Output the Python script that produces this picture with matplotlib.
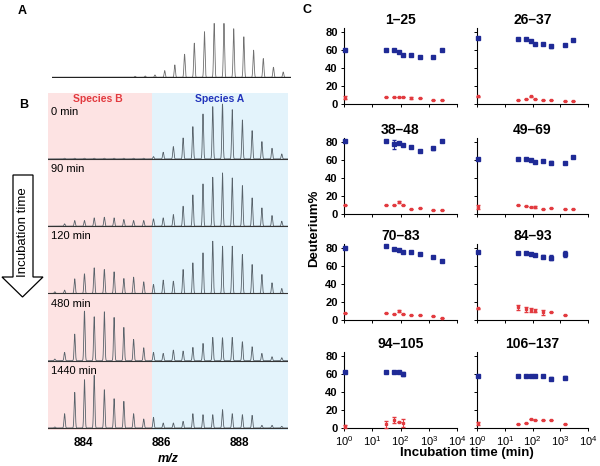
import numpy as np
import matplotlib
matplotlib.use("Agg")
import matplotlib.pyplot as plt
from matplotlib.patches import Polygon

plt.rcParams['font.family'] = ['Liberation Sans', 'DejaVu Sans']
plt.rcParams['mathtext.fontset'] = 'custom'
plt.rcParams['mathtext.rm'] = 'Liberation Sans'
plt.rcParams['mathtext.default'] = 'rm'

W, H = 600, 466

# ---- spectra (panels A and B) ----
# isotope peak positions, m/z
peak_mz = [883.27, 883.52, 883.78, 884.03, 884.28, 884.54, 884.79, 885.04,
           885.29, 885.55, 885.80, 886.05, 886.31, 886.56, 886.81, 887.07,
           887.32, 887.57, 887.82, 888.08, 888.33, 888.58, 888.84, 889.09]

# panel A reference spectrum, peaks 8..23
ref_heights = [3, 4, 7, 20, 37, 69, 102, 136, 161, 161, 145, 121, 81, 56, 30, 16]

spec_labels = ['0 min', '90 min', '120 min', '480 min', '1440 min']
spec_0 = [0, 2, 2, 2, 2, 2, 2, 2, 2, 2, 7, 20, 37, 63, 97, 135, 157, 165,
          148, 117, 85, 52, 32, 15]
spec_90 = [0, 7, 17, 17, 25, 27, 25, 20, 17, 17, 22, 25, 35, 60, 94, 127, 147,
           160, 145, 122, 85, 55, 32, 15]
spec_120 = [5, 10, 44, 59, 77, 72, 65, 45, 49, 35, 27, 40, 37, 72, 92, 122,
            157, 142, 142, 117, 87, 57, 32, 15]
spec_480 = [5, 25, 80, 149, 132, 147, 130, 100, 64, 39, 25, 22, 32, 29, 40, 52,
            70, 69, 70, 57, 42, 22, 12, 9]
spec_1440 = [3, 43, 107, 145, 158, 115, 88, 80, 43, 27, 32, 15, 15, 20, 43, 40,
             40, 55, 43, 40, 38, 8, 8, 5]
spectra = [spec_0, spec_90, spec_120, spec_480, spec_1440]

split_mz = 885.76   # boundary between species B and species A

# ---- deuterium uptake (panel C) ----
# t = 0 is drawn at 10^0
times = [1.1, 30, 60, 90, 120, 240, 480, 1440, 2880]
nan = np.nan
segments = ['1–25', '26–37', '38–48', '49–69', '70–83', '84–93', '94–105', '106–137']

speciesA = {
    '1–25':    [60, 60, 59.5, 58, 54.5, 54.3, 52.5, 51.7, 60],
    '26–37':   [73.4, 72.7, 72.7, 70, 67, 67, 64, 65.3, 71.2],
    '38–48':   [81, 81, 77.5, 78.6, 76.8, 74.3, 70, 73, 81],
    '49–69':   [61.4, 61.4, 61.4, 60, 57.9, 59.3, 57, 56.8, 63.2],
    '70–83':   [80, 82.2, 79.3, 77.8, 75.2, 75.6, 73.3, 70.4, 65.2],
    '84–93':   [75.2, 74.8, 74.8, 73.7, 72.6, 70.5, 69.3, 73.3, nan],
    '94–105':  [62.7, 62.7, 62.7, 62.7, 60, nan, nan, nan, nan],
    '106–137': [57.9, 57.9, 57.9, 57.9, 57.5, 57.5, 55, 56, nan],
}
speciesA_err = {
    '1–25':    [0.5, 0, 0, 0, 1.5, 0, 0, 0.8, 0],
    '26–37':   [0.5, 0, 0, 0, 0, 0, 2, 0, 0.5],
    '38–48':   [0.5, 1.5, 5, 0, 0, 0, 1.5, 1.5, 0],
    '49–69':   [0.5, 0, 0, 0, 1, 0, 1.5, 0, 0],
    '70–83':   [0.5, 0, 0, 0, 0, 0, 0, 0, 0],
    '84–93':   [0.5, 0, 0, 0, 0, 2, 3, 3, 0],
    '94–105':  [0.5, 0, 0, 0, 2, 0, 0, 0, 0],
    '106–137': [0.5, 0, 0, 0, 0, 0, 1.5, 2, 0],
}
speciesB = {
    '1–25':    [7, 7.3, 7.3, 7.7, 7.7, 7, 6.6, 4.8, 4.4],
    '26–37':   [8.4, 4.8, 5.5, 8.4, 5.9, 4.8, 4.8, 3.3, 3.3],
    '38–48':   [10.4, 10, 10.4, 13.6, 9.6, 6, 6.8, 4.6, 4.3],
    '49–69':   [8, 10, 8.9, 7.9, 7.5, 6, 6.8, 5.4, 5],
    '70–83':   [7.4, 7.4, 7, 10, 6.7, 5.2, 5.9, 4, 2.6],
    '84–93':   [13, 14, 11.9, 11.1, 10.4, 8.5, 8.5, 5.2, nan],
    '94–105':  [2, 4, 8.8, 6.6, 6, nan, nan, nan, nan],
    '106–137': [5.3, 4.8, 5.2, 10, 8.8, 8.8, 8.5, 4.4, nan],
}
speciesB_err = {
    '1–25':    [1.5, 0, 0, 0, 0, 1, 0, 0, 0],
    '26–37':   [0.8, 0, 0, 0.5, 0, 0, 0, 0, 0],
    '38–48':   [0, 0, 0, 1, 0, 0, 0, 0, 0],
    '49–69':   [2, 0, 0, 0, 1, 0, 0, 0, 0],
    '70–83':   [0, 0, 0, 1.5, 0, 0, 0, 0, 0],
    '84–93':   [0.5, 3, 2.5, 2.5, 2, 2.5, 0, 0, 0],
    '94–105':  [1.5, 3.5, 3, 0, 4.5, 0, 0, 0, 0],
    '106–137': [1.5, 0, 0, 0, 0, 0, 0, 0, 0],
}

BLUE = '#1f2a96'
RED = '#e23a3f'
PINK = '#fde3e3'
LIGHTBLUE = '#e3f3fb'
LINE = '#58626a'


def rect(left, top, right, bottom):
    # pixel box -> figure fraction
    return [left / W, 1 - bottom / H, (right - left) / W, (bottom - top) / H]


def profile(x, mz, heights, sigma=0.015):
    y = np.zeros_like(x)
    for m, h in zip(mz, heights):
        y += h * np.exp(-0.5 * ((x - m) / sigma) ** 2)
    return y


fig = plt.figure(figsize=(W / 100, H / 100), dpi=100)

# ---- panel A ----
axA = fig.add_axes(rect(52, 20, 291, 78))
xa = np.linspace(883.16, 889.29, 5000)
axA.plot(xa, profile(xa, peak_mz[8:], ref_heights), color='#707070', lw=0.6)
axA.axhline(0, color='#222222', lw=0.9)
axA.set_xlim(883.16, 889.29)
axA.set_ylim(-2, 171)
axA.axis('off')

# ---- panel B ----
axB = fig.add_axes(rect(48, 93, 288, 430))
xmin, xmax = 883.095, 889.25
axB.axvspan(xmin, split_mz, color=PINK, lw=0)
axB.axvspan(split_mz, xmax, color=LIGHTBLUE, lw=0)
xb = np.linspace(xmin, xmax, 6000)
n = len(spectra)
for i, (lab, spec) in enumerate(zip(spec_labels, spectra)):
    off = n - 1 - i
    axB.plot(xb, off + profile(xb, peak_mz, spec) / 202.0, color=LINE, lw=0.6)
    axB.axhline(off, color='#333333', lw=0.8)
    ty = off + (0.70 if i == 0 else 0.85)
    axB.text(883.17, ty, lab, fontsize=8, va='center', ha='left')
axB.text(884.37, 4.89, 'Species B', color=RED, fontsize=7.5, fontweight='bold',
         ha='center', va='center')
axB.text(887.5, 4.89, 'Species A', color='#2233bb', fontsize=7.5, fontweight='bold',
         ha='center', va='center')
axB.set_xlim(xmin, xmax)
axB.set_ylim(-0.03, 4.98)
axB.set_yticks([])
axB.set_xticks([884, 886, 888])
axB.tick_params(axis='x', length=0, pad=5, labelsize=8.5)
for t in axB.get_xticklabels():
    t.set_fontweight('bold')
for s in axB.spines.values():
    s.set_visible(False)
axB.set_xlabel('m/z', fontsize=9, fontweight='bold', fontstyle='italic', labelpad=3)

# incubation time arrow
arrow_px = [(13, 175), (33, 175), (33, 277), (43, 277), (22.5, 297), (2, 277), (13, 277)]
fig.add_artist(Polygon([(x / W, 1 - y / H) for x, y in arrow_px], closed=True,
                       facecolor='white', edgecolor='black', lw=0.9,
                       transform=fig.transFigure))
fig.text(23.5 / W, 1 - 232 / H, 'Incubation time', rotation=90, fontsize=9.5,
         ha='center', va='center')

# ---- panel C ----
col_x = [(344, 457), (477, 588)]
row_bottom = [104, 214, 320, 428]
ax_h = 75.6
for k, seg in enumerate(segments):
    r, c = divmod(k, 2)
    l, rgt = col_x[c]
    b = row_bottom[r]
    ax = fig.add_axes(rect(l, b - ax_h, rgt, b))
    ax.errorbar(times, speciesA[seg], yerr=speciesA_err[seg], fmt='s', ms=2.8,
                color=BLUE, ecolor=BLUE, elinewidth=0.7, capsize=1.3,
                clip_on=False, zorder=3)
    ax.errorbar(times, speciesB[seg], yerr=speciesB_err[seg], fmt='s', ms=2.0,
                color=RED, ecolor=RED, elinewidth=0.7, capsize=1.3,
                clip_on=False, zorder=3)
    ax.set_xscale('log')
    ax.set_xlim(1, 1e4)
    ax.set_ylim(0, 84)
    ax.set_xticks([1, 10, 100, 1000, 10000])
    ax.minorticks_off()
    ax.set_yticks([0, 20, 40, 60, 80])
    ax.spines['top'].set_visible(False)
    ax.spines['right'].set_visible(False)
    ax.tick_params(length=2.5, width=0.7, labelsize=8, pad=2)
    if c == 1:
        ax.tick_params(labelleft=False)
    else:
        for t in ax.get_yticklabels():
            t.set_fontweight('bold')
    if r < 3:
        ax.tick_params(labelbottom=False)
    ax.set_title(seg, fontsize=10, fontweight='bold', pad=3)

fig.text(314 / W, 1 - 228 / H, 'Deuterium%', rotation=90, fontsize=9.5,
         fontweight='bold', ha='center', va='center')
fig.text(467 / W, 1 - 453 / H, 'Incubation time (min)', fontsize=9.5,
         fontweight='bold', ha='center', va='center')

fig.text(22 / W, 1 - 11 / H, 'A', fontsize=9, fontweight='bold', ha='center', va='center')
fig.text(24 / W, 1 - 105 / H, 'B', fontsize=9, fontweight='bold', ha='center', va='center')
fig.text(307 / W, 1 - 10 / H, 'C', fontsize=9, fontweight='bold', ha='center', va='center')

fig.savefig('out.png', dpi=100)
